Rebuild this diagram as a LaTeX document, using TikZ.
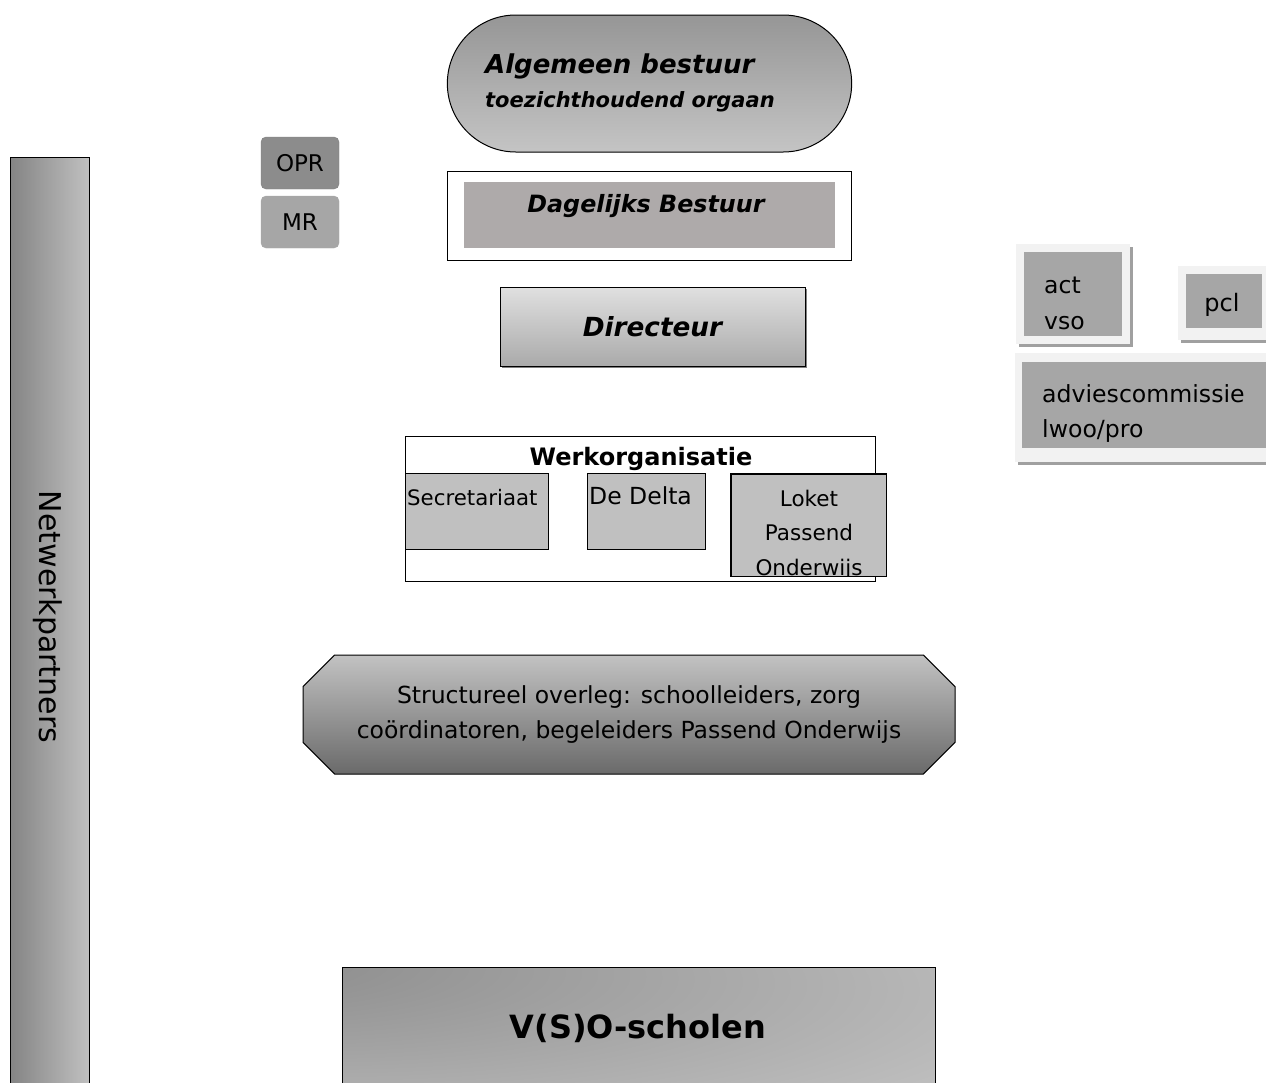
\documentclass[tikz,border=0pt]{standalone}
\usepackage{fontspec}
\setmainfont{DejaVu Sans}
\usetikzlibrary{shapes.misc,shadows}

\definecolor{abtop}{RGB}{150,150,150}
\definecolor{abbot}{RGB}{196,196,196}
\definecolor{dbgray}{RGB}{174,170,170}
\definecolor{dirtop}{RGB}{224,224,224}
\definecolor{dirbot}{RGB}{170,170,170}
\definecolor{oprgray}{RGB}{140,140,140}
\definecolor{mrgray}{RGB}{166,166,166}
\definecolor{nwleft}{RGB}{132,132,132}
\definecolor{nwright}{RGB}{192,192,192}
\definecolor{panelgray}{RGB}{166,166,166}
\definecolor{framegray}{RGB}{242,242,242}
\definecolor{shadowgray}{RGB}{160,160,160}
\definecolor{subgray}{RGB}{192,192,192}
\definecolor{sotop}{RGB}{194,194,194}
\definecolor{sobot}{RGB}{106,106,106}
\definecolor{vsodark}{RGB}{136,136,136}
\definecolor{vsolight}{RGB}{192,192,192}

\pgfdeclareradialshading{vsoshade}{\pgfpoint{-38bp}{30bp}}{color(0bp)=(vsodark); color(22bp)=(vsodark!60!vsolight); color(55bp)=(vsolight); color(100bp)=(vsolight)}

\newcommand{\fsize}[2]{\fontsize{#1}{#2}\selectfont}

\begin{document}
\begin{tikzpicture}[x=1pt, y=-1pt,
    box/.style={rectangle, draw, line width=1pt, inner sep=0pt},
    subbox/.style={box, fill=subgray},
    frame/.style={rectangle, fill=framegray, inner sep=0pt,
      drop shadow={shadow xshift=3pt, shadow yshift=-3pt, fill=shadowgray, opacity=1}},
    panel/.style={rectangle, fill=panelgray, inner sep=0pt},
    small/.style={rounded corners=5pt, draw=gray, inner sep=0pt,
      minimum width=78pt, minimum height=52pt, font=\fsize{23}{27}},
    txt/.style={inner sep=0pt}]

    \useasboundingbox (0,0) rectangle (1266,1082);
    \clip (0,0) rectangle (1266,1082);

    % First the board on top
    \node[rounded rectangle, draw, line width=1pt, top color=abtop, bottom color=abbot,
      minimum width=411pt, minimum height=137pt] (ab) at (649.5,83.5) {};
    \node[txt, anchor=base west, font=\fsize{26}{30}\bfseries\itshape] (abtitle) at (485,73) {Algemeen bestuur};
    \node[txt, anchor=base west, font=\fsize{21}{25}\bfseries\itshape] (absub) at (485,107) {toezichthoudend orgaan};

    \node[box, fill=white, minimum width=404pt, minimum height=89pt] (dbframe) at (649,215.5) {};
    \node[panel, fill=dbgray, minimum width=371pt, minimum height=66pt] (db) at (649.5,215) {};
    \node[txt, anchor=base, font=\fsize{23.8}{28}\bfseries\itshape] (dbtext) at (646,212) {Dagelijks Bestuur};

    \node[box, top color=dirtop, bottom color=dirbot, minimum width=305pt, minimum height=79pt,
      font=\fsize{26.3}{30}\bfseries\itshape,
      drop shadow={shadow xshift=2pt, shadow yshift=-2pt, fill=gray, opacity=1}] (dir) at (652.5,326.5) {Directeur};

    % Councils on the left
    \node[small, fill=oprgray] (opr) at (300,163) {OPR};
    \node[small, fill=mrgray, draw=gray!70] (mr) at (300,222) {MR};

    \node[box, left color=nwleft, right color=nwright, minimum width=79pt, minimum height=940pt] (nw) at (49.5,627) {};
    \node[txt, rotate=-90, font=\fsize{30}{34}] (nwtext) at (48,617) {Netwerkpartners};

    % Committees on the right
    \node[frame, minimum width=114pt, minimum height=100pt] (actframe) at (1073,294) {};
    \node[panel, minimum width=98pt, minimum height=84pt] (act) at (actframe) {};
    \node[txt, anchor=west, align=left, font=\fsize{23.5}{36}] (acttext) at (1044,303) {act\\vso};

    \node[frame, minimum width=92pt, minimum height=74pt] (pclframe) at (1224,303) {};
    \node[panel, minimum width=76pt, minimum height=54pt] (pcl) at (1224,301) {};
    \node[txt, font=\fsize{24}{28}] (pcltext) at (1222,305) {pcl};

    \node[frame, minimum width=260pt, minimum height=109pt] (advframe) at (1145,407.5) {};
    \node[panel, minimum width=250pt, minimum height=86pt] (adv) at (1147,405) {};
    \node[txt, anchor=west, align=left, font=\fsize{23.6}{35}] (advtext) at (1042,413) {adviescommissie\\lwoo/pro};

    % Werkorganisatie with its three parts
    \node[box, fill=white, minimum width=470pt, minimum height=145pt] (wo) at (640,508.5) {};
    \node[txt, font=\fsize{24}{28}\bfseries] (wotitle) at (641,459) {Werkorganisatie};

    \node[subbox, minimum width=143pt, minimum height=76pt] (sec) at (476.5,511) {};
    \node[txt, anchor=west, font=\fsize{21.3}{25}] (sectext) at (407,497.5) {Secretariaat};

    \node[subbox, minimum width=118pt, minimum height=76pt] (delta) at (646,511) {};
    \node[txt, anchor=west, font=\fsize{23.5}{27}] (deltatext) at (589,496) {De Delta};

    \node[subbox, minimum width=155pt, minimum height=102pt] (loket) at (808.5,525) {};
    \begin{scope}
      \clip (loket.south west) rectangle (loket.north east);
      \node[txt, align=center, font=\fsize{21.5}{34.5}] (lokettext) at (809,535) {Loket\\Passend\\Onderwijs};
    \end{scope}
    \draw[line width=1pt] (loket.south west) rectangle (loket.north east);

    % Overleg and the schools
    \node[chamfered rectangle, chamfered rectangle xsep=28pt, draw, line width=1pt,
      top color=sotop, bottom color=sobot, minimum width=652pt, minimum height=119pt,
      align=center, font=\fsize{23.5}{35}] (so) at (629,714.5)
      {Structureel overleg: schoolleiders, zorg\\co\"ordinatoren, begeleiders Passend Onderwijs};

    \node[box, shading=vsoshade, minimum width=593pt, minimum height=140pt] (vso) at (638.5,1037) {};
    \node[txt, font=\fsize{32}{36}\bfseries] (vsotext) at (638,1028) {V(S)O-scholen};

\end{tikzpicture}
\end{document}
